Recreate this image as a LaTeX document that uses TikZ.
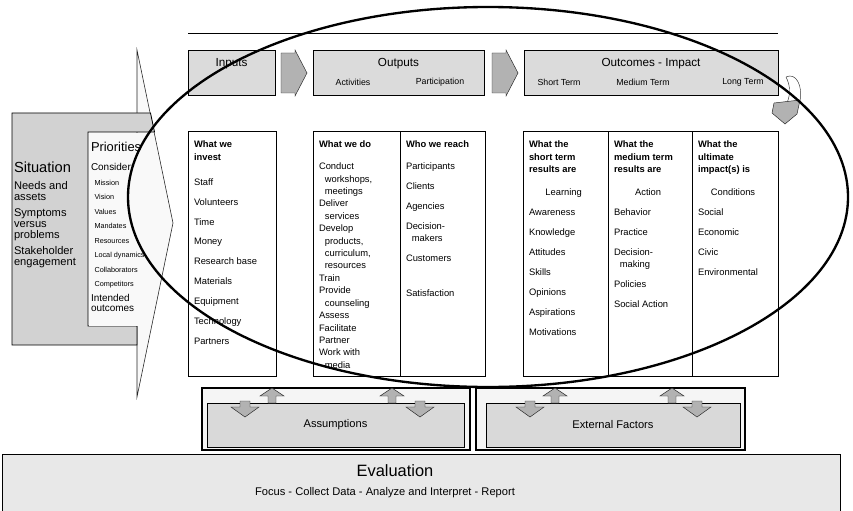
\documentclass[tikz,border=0pt]{standalone}
\usepackage{fontspec}
\setmainfont{Liberation Sans}
\usetikzlibrary{positioning, calc, fit}

\newcommand{\itemgap}{\\[6.4pt]}

\begin{document}
\begin{tikzpicture}[
    x=0.03cm, y=-0.03cm,
    every node/.style={inner sep=0pt, outer sep=0pt},
    hdr/.style={draw, fill=gray!28, line width=0.6pt},
    col/.style={draw, fill=white, line width=0.5pt},
    list/.style={anchor=north west, align=left, font=\fontsize{8}{10.6}\selectfont},
    ttl/.style={font=\fontsize{10}{12}\selectfont},
    sub/.style={font=\fontsize{7.5}{9}\selectfont},
    flow/.style={fill=gray!60, draw=gray!30!black, line width=0.4pt},
    push/.pic={\filldraw[flow] (-13,-20) -- (1,-20) -- (1,-23) -- (13,0) -- (1,23) -- (1,20) -- (-13,20) -- cycle;},
    lift/.pic={\filldraw[flow] (-4,0) -- (-4,-7) -- (-12,-7) -- (0,-15) -- (12,-7) -- (4,-7) -- (4,0) -- cycle;},
    drop/.pic={\filldraw[flow] (-5,-2) -- (5,-2) -- (5,4) -- (14,4) -- (0,14) -- (-14,4) -- (-5,4) -- cycle;},
  ]
  \useasboundingbox (0,0) rectangle (853,510);

  % --- Situation and Priorities ---
  \filldraw[fill=gray!5, draw=gray!30!black, line width=0.5pt] (137,50) -- (173,223) -- (137,397) -- cycle;
  \filldraw[fill=gray!35, draw=black, line width=0.7pt] (150.5,113) -- (12,113) -- (12,345) -- (137,345) -- (137,326) -- (88,326) -- (88,132) -- (154.5,132) -- cycle;
  \fill[gray!5] (88.5,132.5) rectangle (140,325.5);

  \node[anchor=north west, align=left, font=\fontsize{9.5}{9.4}\selectfont] (sittxt) at (14,162)
    {{\fontsize{12.5}{14}\selectfont Situation}\\[5pt]Needs and\\assets\\[4.3pt]Symptoms\\versus\\problems\\[4.3pt]Stakeholder\\engagement};
  \node[anchor=north west, align=left, font=\fontsize{6.2}{12.4}\selectfont] (prio) at (91,142)
    {{\fontsize{11}{12}\selectfont Priorities}\\[4pt]{\fontsize{8.5}{10}\selectfont Consider:}\\
     \hspace*{3pt}Mission\\\hspace*{3pt}Vision\\\hspace*{3pt}Values\\\hspace*{3pt}Mandates\\
     \hspace*{3pt}Resources\\\hspace*{3pt}Local dynamics\\\hspace*{3pt}Collaborators\\\hspace*{3pt}Competitors\\
     {\fontsize{8.5}{10}\selectfont Intended}\\[-3.8pt]{\fontsize{8.5}{10}\selectfont outcomes}};

  % --- Header row ---
  \node[hdr, fit={(188,50) (275,95)}] (inhdr) {};
  \node[hdr, fit={(313,50) (484,95)}] (outhdr) {};
  \node[hdr, fit={(524,50) (778,95)}] (ochdr) {};
  \node[ttl, below=2.4mm of inhdr.north] (intit) {Inputs};
  \node[ttl, below=2.4mm of outhdr.north] (outtit) {Outputs};
  \node[ttl, below=2.4mm of ochdr.north] (octit) {Outcomes - Impact};
  \node[sub] (acts) at (353,82) {Activities};
  \node[sub] (parts) at (440,82) {Participation};
  \node[sub] (st) at (559,82) {Short Term};
  \node[sub] (mt) at (643,82) {Medium Term};
  \node[sub] (lt) at (743,82) {Long Term};
  \draw[line width=0.8pt] ($(inhdr.north west)+(0,-17)$) -- ($(ochdr.north east)+(0,-17)$);
  \pic at (294,73) {push};
  \pic at (505,73) {push};

  % --- turn arrow at the right end ---
  \filldraw[fill=white, draw=gray!40!black, line width=0.4pt] (786,77) .. controls (796,72) and (803,86) .. (800,101) -- (787,103) .. controls (791,93) and (790,85) .. (786,77);
  \filldraw[flow] (774,103) -- (800,100) -- (797,114) -- (785,124) -- (772,113) -- cycle;

  % --- Columns ---
  \node[col, fit={(188,131) (276,376)}] (inv) {};
  \node[col, fit={(313,131) (400,376)}] (do) {};
  \node[col, fit={(400,131) (485,376)}] (reach) {};
  \node[col, fit={(523,131) (608,376)}] (short) {};
  \node[col, fit={(608,131) (692,376)}] (medium) {};
  \node[col, fit={(692,131) (778,376)}] (long) {};

  \node[list] (invtxt) at ($(inv.north west)+(6,10)$)
    {\textbf{What we}\\\textbf{invest}\\[10.7pt]Staff\itemgap Volunteers\itemgap Time\itemgap Money\itemgap Research base\itemgap
     Materials\itemgap Equipment\itemgap Technology\itemgap Partners};
  \node[list] (dotxt) at ($(do.north west)+(6,10)$)
    {\textbf{What we do}\\[8pt]Conduct\\\hspace*{5pt}workshops,\\\hspace*{5pt}meetings\\Deliver\\\hspace*{5pt}services\\
     Develop\\\hspace*{5pt}products,\\\hspace*{5pt}curriculum,\\\hspace*{5pt}resources\\Train\\Provide\\\hspace*{5pt}counseling\\
     Assess\\Facilitate\\Partner\\Work with\\\hspace*{5pt}media};
  \node[list] (reachtxt) at ($(reach.north west)+(6,10)$)
    {\textbf{Who we reach}\\[8pt]Participants\itemgap Clients\itemgap Agencies\itemgap Decision-\\\hspace*{5pt}makers\itemgap
     Customers\\[19pt]Satisfaction};
  \node[list] (shorttxt) at ($(short.north west)+(6,10)$)
    {\textbf{What the}\\\textbf{short term}\\\textbf{results are}\\[9pt]\hspace*{14pt}Learning\itemgap Awareness\itemgap
     Knowledge\itemgap Attitudes\itemgap Skills\itemgap Opinions\itemgap Aspirations\itemgap Motivations};
  \node[list] (mediumtxt) at ($(medium.north west)+(6,10)$)
    {\textbf{What the}\\\textbf{medium term}\\\textbf{results are}\\[9pt]\hspace*{18pt}Action\itemgap Behavior\itemgap
     Practice\itemgap Decision-\\\hspace*{5pt}making\itemgap Policies\itemgap Social Action};
  \node[list] (longtxt) at ($(long.north west)+(6,10)$)
    {\textbf{What the}\\\textbf{ultimate}\\\textbf{impact(s) is}\\[9pt]\hspace*{11pt}Conditions\itemgap Social\itemgap
     Economic\itemgap Civic\itemgap Environmental};

  % --- Big loop ---
  \draw[line width=2pt] (488,197) ellipse [x radius=360, y radius=190];

  % --- Assumptions / External Factors ---
  \node[draw, fill=gray!8, line width=1pt, fit={(202,388) (470,450)}] (asout) {};
  \node[draw, fill=gray!30, line width=0.8pt, fit={(207,403) (464,447)}] (asin) {};
  \node[font=\fontsize{9.5}{11}\selectfont] (astxt) at (asin.center) {Assumptions};
  \node[draw, fill=gray!8, line width=1pt, fit={(476,388) (745,450)}] (exout) {};
  \node[draw, fill=gray!30, line width=0.8pt, fit={(486,403) (740,447)}] (exin) {};
  \node[font=\fontsize{9.5}{11}\selectfont] (extxt) at (exin.center) {External Factors};
  \pic at (272,403) {lift};
  \pic at (392,403) {lift};
  \pic at (245,403) {drop};
  \pic at (420,403) {drop};
  \pic at (555,403) {lift};
  \pic at (672,403) {lift};
  \pic at (530,403) {drop};
  \pic at (697,403) {drop};

  % --- Evaluation ---
  \node[draw, fill=gray!18, line width=0.8pt, fit={(2,454) (840,514)}] (evalbox) {};
  \node[font=\fontsize{14}{16}\selectfont] (evaltit) at (395,471) {Evaluation};
  \node[font=\fontsize{9.5}{11}\selectfont] (evalsub) at (385,493) {Focus - Collect Data - Analyze and Interpret - Report};

\end{tikzpicture}
\end{document}
